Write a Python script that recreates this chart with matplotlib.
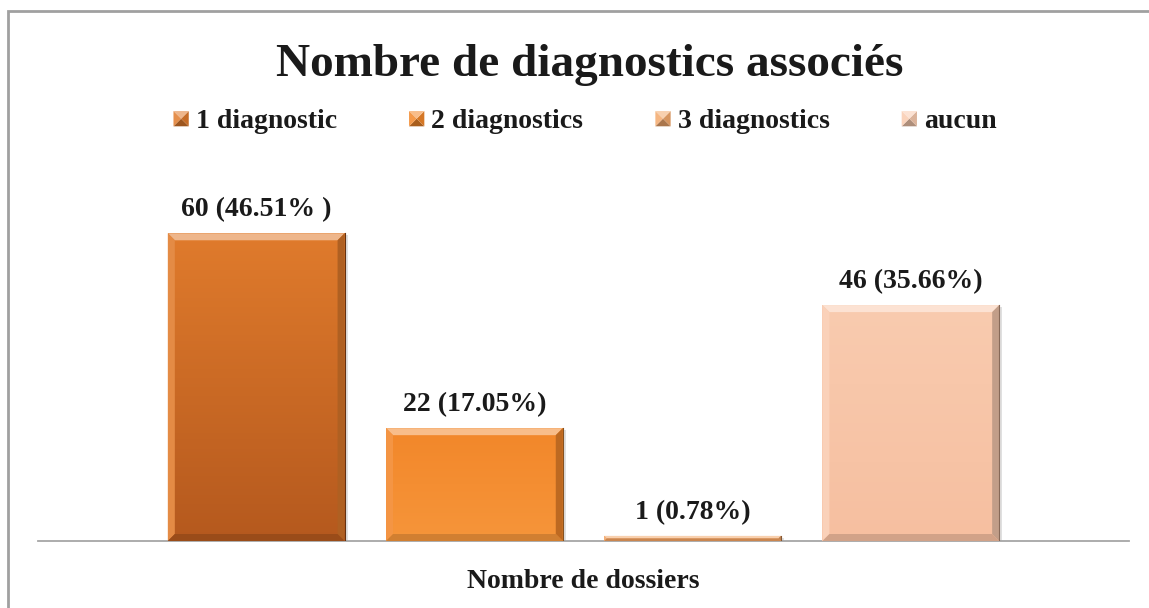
import matplotlib
matplotlib.use('Agg')
import matplotlib.pyplot as plt
import numpy as np
from matplotlib.patches import Polygon, Patch, Rectangle
from matplotlib.legend_handler import HandlerBase
from matplotlib.colors import to_rgb

plt.rcParams['font.family'] = ['Liberation Serif', 'DejaVu Serif']
plt.rcParams['font.weight'] = 'bold'

# donnees
categories = ['1 diagnostic', '2 diagnostics', '3 diagnostics', 'aucun']
counts = [60, 22, 1, 46]
value_labels = ['60 (46.51% )', '22 (17.05%)', '1 (0.78%)', '46 (35.66%)']
top_colors = ['#E07B2C', '#F2872A', '#F3A96C', '#F9CBAF']
bottom_colors = ['#B5591E', '#F6953A', '#EE9E5E', '#F6BFA0']

W, H = 1149, 608
fig = plt.figure(figsize=(W / 100, H / 100), dpi=100)
ax = fig.add_axes([38 / W, (H - 541) / H, (1129 - 38) / W, 359 / H])
ax.patch.set_alpha(0)

px_x = 1091 / 5   # pixels par unite x
px_y = 359 / 70   # pixels par unite y


def mix(c, other, t):
    return tuple((1 - t) * np.array(to_rgb(c)) + t * np.array(to_rgb(other)))


class PyramidHandler(HandlerBase):
    # petit carre en pyramide comme dans la legende Excel
    def create_artists(self, legend, orig_handle, xdescent, ydescent,
                       width, height, fontsize, trans):
        c = orig_handle.get_facecolor()[:3]
        s = min(width, height)
        x0 = -xdescent + (width - s) / 2
        y0 = -ydescent + (height - s) / 2
        cx, cy = x0 + s / 2, y0 + s / 2
        pts = [(x0, y0), (x0 + s, y0), (x0 + s, y0 + s), (x0, y0 + s)]
        shades = [mix(c, 'black', 0.3), mix(c, 'black', 0.12),
                  mix(c, 'white', 0.45), mix(c, 'white', 0.15)]
        arts = []
        for i in range(4):
            arts.append(Polygon([pts[i], pts[(i + 1) % 4], (cx, cy)], closed=True,
                                facecolor=shades[i], edgecolor='none', transform=trans))
        return arts


x = np.arange(len(counts))
bars = ax.bar(x, counts, width=0.81, color=top_colors, zorder=2)

for b, c0, c1, lab in zip(bars, top_colors, bottom_colors, value_labels):
    x0, w, h = b.get_x(), b.get_width(), b.get_height()
    # ombre
    ax.add_patch(Rectangle((x0 + 3 / px_x, 0), w, h - 2 / px_y, color='black',
                           alpha=0.12, zorder=1, lw=0))
    # degrade vertical
    g = np.linspace(0, 1, 100)[:, None, None]
    rgb = np.array(to_rgb(c0)) * (1 - g) + np.array(to_rgb(c1)) * g
    im = ax.imshow(rgb, extent=[x0, x0 + w, 0, h], origin='upper',
                   aspect='auto', zorder=3)
    im.set_clip_path(b)
    # biseau
    bp = min(7, h * px_y / 2)
    bx, by = bp / px_x, bp / px_y
    bevel = [
        ([(x0, h), (x0 + w, h), (x0 + w - bx, h - by), (x0 + bx, h - by)], mix(c0, 'white', 0.45)),
        ([(x0 + w, h), (x0 + w, 0), (x0 + w - bx, by), (x0 + w - bx, h - by)], mix(c0, 'black', 0.22)),
        ([(x0, h), (x0, 0), (x0 + bx, by), (x0 + bx, h - by)], mix(c0, 'white', 0.12)),
        ([(x0, 0), (x0 + w, 0), (x0 + w - bx, by), (x0 + bx, by)], mix(c1, 'black', 0.15)),
    ]
    for pts, col in bevel:
        ax.add_patch(Polygon(pts, closed=True, facecolor=col, edgecolor='none', zorder=4))
    ax.plot([x0 + w, x0 + w], [0, h], color=mix(c1, 'black', 0.45), lw=0.8, zorder=5)
    ax.annotate(lab, (x0 + w / 2, h), xytext=(0, 8), textcoords='offset points',
                ha='center', va='bottom', fontsize=20, fontweight='bold', color='#1a1a1a')

ax.set_xlim(-1, 4)
ax.set_ylim(0, 70)
for side in ['top', 'right', 'left']:
    ax.spines[side].set_visible(False)
ax.spines['bottom'].set_color('#A6A6A6')
ax.spines['bottom'].set_linewidth(1.3)
ax.set_xticks([])
ax.set_yticks([])

fig.text(590 / W, 1 - 65 / H, 'Nombre de diagnostics associés', ha='center', va='center',
         fontsize=34, fontweight='bold', color='#1a1a1a')
fig.text(583.5 / W, 1 - 581 / H, 'Nombre de dossiers', ha='center', va='center',
         fontsize=20, fontweight='bold', color='#1a1a1a')

handles = [Patch(facecolor=c, label=cat) for c, cat in zip(top_colors, categories)]
fig.legend(handles=handles, loc='center', bbox_to_anchor=(585 / W, 1 - 122 / H), ncol=4,
           frameon=False, prop={'weight': 'bold', 'size': 20}, handlelength=0.55,
           handleheight=0.55, handletextpad=0.25, columnspacing=2.6,
           handler_map={Patch: PyramidHandler()}, labelcolor='#1a1a1a')

# cadre du graphique
fig.add_artist(Rectangle((8 / W, -0.1), 1.2, 1.1 - 11 / H, transform=fig.transFigure,
                         fill=False, edgecolor='#A0A0A0', lw=2))

plt.savefig('out.png', dpi=100)
